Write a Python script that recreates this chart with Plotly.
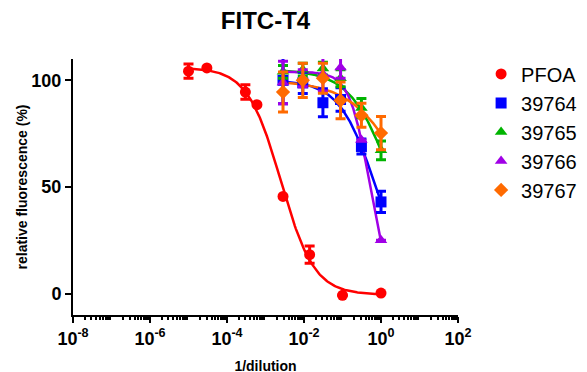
import numpy as np
import plotly.graph_objects as go

# ---- data ----
series_names = ["PFOA", "39764", "39765", "39766", "39767"]

x_pfoa = [1e-5, 3e-5, 3e-4, 6e-4, 2.85e-3, 1.4e-2, 0.1, 1.0]
y_pfoa = [104.3, 105.8, 94.5, 88.6, 45.6, 18.3, -0.8, 0.3]
e_pfoa = [3.3, 0, 3.4, 0, 0, 4.0, 0, 0]

x_cmp = [2.85e-3, 9.3e-3, 3.1e-2, 0.089, 0.31, 1.0]
y_39764 = [100.0, 98.8, 89.5, 91.0, 69.0, 43.0]
e_39764 = [11.0, 5.0, 6.6, 5.5, 3.5, 5.0]
y_39765 = [104.0, 105.0, 105.5, 101.0, 87.0, 67.2]
e_39765 = [3.0, 3.0, 3.0, 4.0, 4.5, 4.4]
y_39766 = [99.0, 101.0, 103.0, 106.0, 72.0, 25.0]
e_39766 = [10.0, 4.0, 8.0, 5.0, 0, 0]
y_39767 = [94.5, 100.0, 101.0, 90.6, 83.6, 75.3]
e_39767 = [9.4, 8.0, 7.0, 8.6, 5.6, 7.8]

# fitted 4PL curve parameters (top, bottom, logIC50, hill)
fit_pfoa = (106.0, -0.5, -2.6, 1.0)
fit_39764 = (100.0, 0.0, -0.133, 0.92)
fit_39765 = (105.0, 0.0, 0.31, 0.8)
fit_39766 = (104.0, 0.0, -0.3, 1.67)
fit_39767 = (100.0, 0.0, 0.795, 0.6)

colors = ["#FF0000", "#0000FF", "#00B400", "#A000E6", "#FF6A00"]
symbols = ["circle", "square", "triangle-up", "triangle-up", "diamond"]

xt_vals = [1e-8, 1e-6, 1e-4, 1e-2, 1e0, 1e2]
xt_text = ["10<sup>-8</sup>", "10<sup>-6</sup>", "10<sup>-4</sup>",
           "10<sup>-2</sup>", "10<sup>0</sup>", "10<sup>2</sup>"]
odd_decades = [1e-7, 1e-5, 1e-3, 1e-1, 1e1]


def hill(x, p):
    top, bottom, logic, h = p
    x = np.asarray(x)
    return bottom + (top - bottom) / (1 + 10 ** (h * (np.log10(x) - logic)))


datasets = [
    (x_pfoa, y_pfoa, e_pfoa, fit_pfoa),
    (x_cmp, y_39764, e_39764, fit_39764),
    (x_cmp, y_39765, e_39765, fit_39765),
    (x_cmp, y_39766, e_39766, fit_39766),
    (x_cmp, y_39767, e_39767, fit_39767),
]

fig = go.Figure()
for i, (xs, ys, es, p) in enumerate(datasets):
    xc = np.logspace(np.log10(min(xs)), np.log10(max(xs)), 200)
    fig.add_trace(go.Scatter(x=xc, y=hill(xc, p), mode="lines",
                             line=dict(color=colors[i], width=2.5),
                             showlegend=False, hoverinfo="skip"))
for i, (xs, ys, es, p) in enumerate(datasets):
    fig.add_trace(go.Scatter(
        x=xs, y=ys, mode="markers", name=series_names[i],
        legendgroup=series_names[i],
        marker=dict(color=colors[i], symbol=symbols[i], size=11,
                    line=dict(width=0)),
        error_y=dict(type="data", array=es, visible=True, color=colors[i],
                     thickness=3, width=5),
    ))

# minor ticks (2..9 of each decade)
minor_vals = [m * 10.0 ** k for k in range(-8, 2) for m in range(2, 10)]

W, H = 587, 372
L, T = 65, 51
PR, PB = 450, 307

fig.update_layout(
    width=W, height=H,
    margin=dict(l=L, r=W - PR, t=T, b=H - PB, autoexpand=False),
    paper_bgcolor="white", plot_bgcolor="white",
    font=dict(family="Liberation Sans, Arial, sans-serif", color="black"),
    title=dict(text="FITC-T4", x=0.5, xref="paper", xanchor="center",
               y=1 - 13 / H, yanchor="middle",
               font=dict(size=24, weight="bold", color="black")),
    legend=dict(x=1.06, xref="paper", xanchor="left", y=1.018, yanchor="top",
                font=dict(size=20), tracegroupgap=0, itemsizing="trace",
                bgcolor="rgba(0,0,0,0)", borderwidth=0),
    xaxis=dict(type="log", range=[-8, 2],
               tickmode="array", tickvals=xt_vals, ticktext=xt_text,
               ticks="outside", ticklen=6, tickwidth=2, tickcolor="black",
               showline=True, linewidth=2, linecolor="black",
               showgrid=False, zeroline=False,
               tickfont=dict(size=18, weight="bold"),
               minor=dict(tickmode="array", tickvals=minor_vals, ticks="outside",
                          ticklen=3, tickwidth=1.5, tickcolor="black", showgrid=False),
               title=dict(text="1/dilution", font=dict(size=14, weight="bold"),
                          standoff=14)),
    xaxis2=dict(type="log", range=[-8, 2], overlaying="x", anchor="y",
                side="bottom", tickmode="array", tickvals=odd_decades,
                showticklabels=False, ticks="outside", ticklen=6, tickwidth=2,
                tickcolor="black", showline=False, showgrid=False,
                zeroline=False),
    yaxis=dict(range=[-10, 110], tickmode="array", tickvals=[0, 50, 100],
               ticks="outside", ticklen=6, tickwidth=2, tickcolor="black",
               showline=True, linewidth=2, linecolor="black",
               showgrid=False, zeroline=False,
               tickfont=dict(size=18, weight="bold"),
               title=dict(text="relative fluorescence (%)",
                          font=dict(size=14, weight="bold"), standoff=0)),
)

fig.write_html("out.html")
